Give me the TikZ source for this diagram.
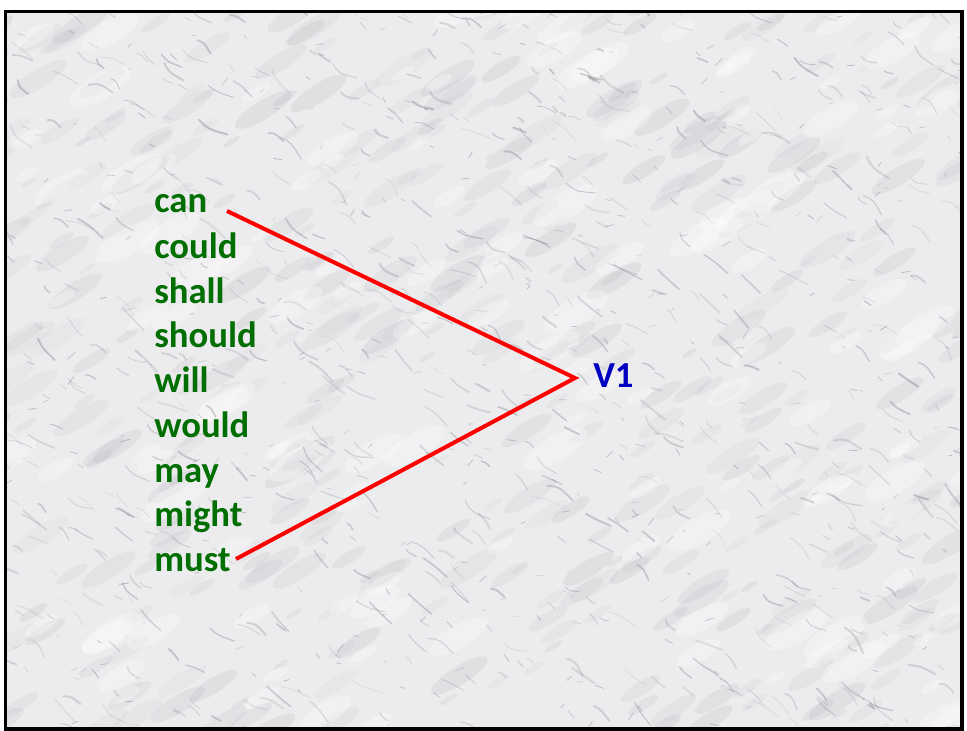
\documentclass[tikz,border=0pt]{standalone}
\usepackage{fontspec}
\setmainfont{Carlito}
\definecolor{wordgreen}{RGB}{0,110,0}
\definecolor{vblue}{RGB}{0,0,192}
\definecolor{marblebg}{RGB}{236,236,238}
\definecolor{vein}{RGB}{110,112,118}
\definecolor{cloud}{RGB}{170,172,178}
\tikzset{
  word/.style={anchor=base west, text=wordgreen, font=\fontsize{27.5}{32}\selectfont\bfseries, inner sep=0pt},
  vlabel/.style={anchor=base west, text=vblue, font=\fontsize{27.5}{32}\selectfont\bfseries, inner sep=0pt},
  link/.style={red, line width=3pt},
  frame/.style={black, line width=2.3pt},
}
\begin{document}
\begin{tikzpicture}[x=0.75pt, y=-0.75pt]
\useasboundingbox (0,0) rectangle (967,731);
\fill[white] (0,0) rectangle (967,731);
\begin{scope}
  \clip (5.5,11.5) rectangle (962,729);
  \fill[marblebg] (0,0) rectangle (967,731);
  \pgfmathsetseed{11}
  % soft grey clouds
  \foreach \i in {1,...,420}{
    \pgfmathsetmacro{\px}{rnd*1000-15}
    \pgfmathsetmacro{\py}{rnd*760-15}
    \pgfmathsetmacro{\rr}{4+rnd*12}
    \pgfmathsetmacro{\op}{0.06+rnd*0.12}
    \fill[cloud, opacity=\op] (\px,\py) ellipse [x radius=\rr*1.6pt, y radius=\rr*0.45pt, rotate=32];
  }
  % white highlights
  \foreach \i in {1,...,140}{
    \pgfmathsetmacro{\px}{rnd*967}
    \pgfmathsetmacro{\py}{rnd*731}
    \pgfmathsetmacro{\rr}{6+rnd*14}
    \fill[white, opacity=0.3] (\px,\py) ellipse [x radius=\rr*1.4pt, y radius=\rr*0.5pt, rotate=30];
  }
  % veins
  \foreach \i in {1,...,650}{
    \pgfmathsetmacro{\px}{rnd*1000-20}
    \pgfmathsetmacro{\py}{rnd*760-15}
    \pgfmathsetmacro{\len}{6+rnd*26}
    \pgfmathsetmacro{\ang}{15+rnd*40}
    \pgfmathsetmacro{\bend}{rnd*60-30}
    \pgfmathsetmacro{\op}{0.10+rnd*0.25}
    \pgfmathsetmacro{\lw}{0.4+rnd*1.2}
    \draw[vein, opacity=\op, line width=\lw pt, line cap=round]
      (\px,\py) .. controls ++({\ang+\bend}:{\len*0.4}) .. ++(\ang:\len);
  }
  % small flecks
  \foreach \i in {1,...,350}{
    \pgfmathsetmacro{\px}{rnd*967}
    \pgfmathsetmacro{\py}{rnd*731}
    \pgfmathsetmacro{\len}{3+rnd*7}
    \pgfmathsetmacro{\ang}{-60+rnd*120}
    \pgfmathsetmacro{\op}{0.15+rnd*0.25}
    \draw[vein, opacity=\op, line width=0.6pt, line cap=round] (\px,\py) -- ++(\ang:\len);
  }
\end{scope}
\draw[frame] (5.5,11.5) rectangle (962,729);

\node[word] (can)    at (154,213) {can};
\node[word] (could)  at (154,258) {could};
\node[word] (shall)  at (154,303) {shall};
\node[word] (should) at (154,347) {should};
\node[word] (will)   at (154,392) {will};
\node[word] (would)  at (154,437) {would};
\node[word] (may)    at (154,482) {may};
\node[word] (might)  at (154,526) {might};
\node[word] (must)   at (154,571) {must};
\node[vlabel] (v1)   at (593,387) {V1};

\coordinate (canend) at (227,211);
\coordinate (apex) at (575,378);
\coordinate (mustend) at (236,559);
\draw[link, line join=miter] (canend) -- (apex) -- (mustend);
\end{tikzpicture}
\end{document}
